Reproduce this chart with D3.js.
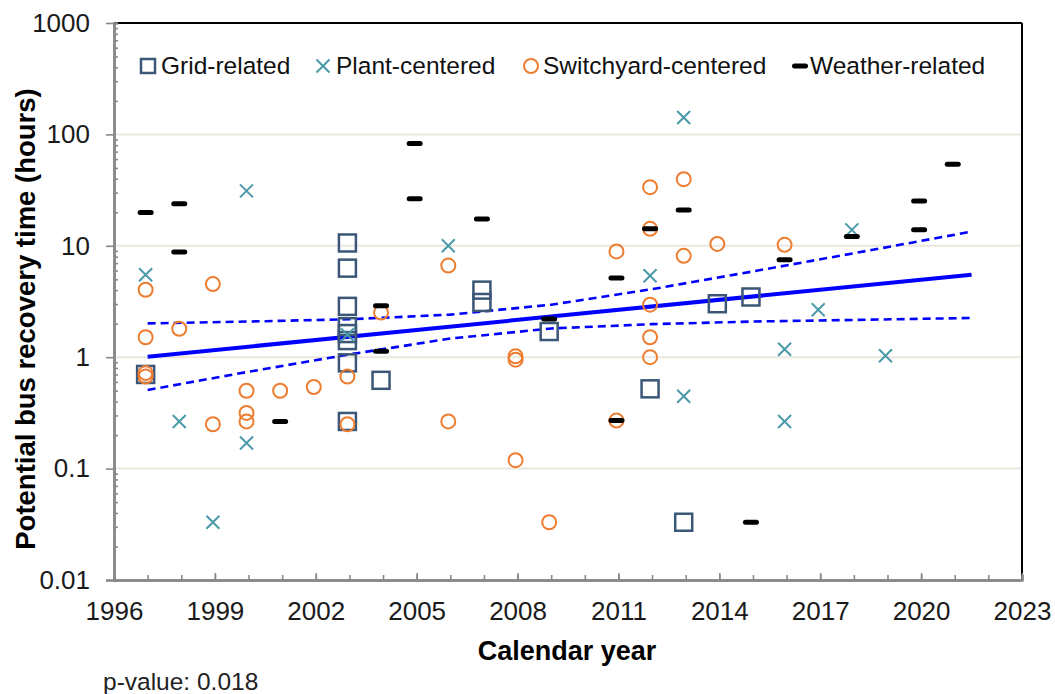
<!DOCTYPE html>
<html><head><meta charset="utf-8">
<script src="https://cdn.jsdelivr.net/npm/d3@7"></script>
<style>
body{margin:0;background:#fff;}
svg{display:block;font-family:"Liberation Sans",Arial,sans-serif;}
</style></head>
<body>
<svg id="c" width="1055" height="694"></svg>
<script>
// ---- data ----
const gridYears  = [1997,2003,2003,2003,2003,2003,2003,2003,2003,2004,2007,2007,2009,2012,2013,2014,2015];
const gridVals   = [0.70,10.6,6.3,2.86,1.88,1.63,1.41,0.89,0.265,0.62,4.0,3.1,1.70,0.52,0.033,3.02,3.47];

const plantYears = [1997,1998,1999,2000,2000,2003,2006,2012,2013,2013,2016,2016,2017,2018,2019];
const plantVals  = [5.5,0.265,0.033,31.1,0.17,1.59,10.0,5.38,142,0.446,1.18,0.265,2.67,13.9,1.03];

const switchYears = [1997,1997,1997,1997,1998,1999,1999,2000,2000,2000,2001,2002,2003,2003,2004,2006,2006,2008,2008,2008,2009,2011,2011,2012,2012,2012,2012,2012,2013,2013,2014,2016];
const switchVals  = [4.03,1.51,0.72,0.67,1.80,4.53,0.25,0.50,0.316,0.265,0.50,0.54,0.67,0.25,2.52,6.65,0.265,1.02,0.95,0.119,0.033,8.9,0.27,33.6,14.2,2.96,1.51,1.0,39.6,8.13,10.4,10.2];

const weatherYears = [1997,1998,1998,2001,2004,2004,2005,2005,2007,2009,2011,2011,2012,2013,2015,2016,2018,2020,2020,2021];
const weatherVals  = [19.9,23.8,8.78,0.265,2.9,1.13,82.7,26.5,17.4,2.2,5.13,0.27,14.2,21.0,0.033,7.49,12.1,25.3,13.9,54];

const trendYears = [1997,2021.5];
const trendVals  = [1.01,5.5];
const ciYears = [1997,2000,2003,2006,2009,2012,2015,2018,2021.5];
const ciUpper = [2.01,2.09,2.19,2.41,2.96,4.08,5.89,8.57,13.4];
const ciLower = [0.508,0.74,1.06,1.47,1.81,1.98,2.09,2.16,2.25];

const xTickYears = [1996,1999,2002,2005,2008,2011,2014,2017,2020,2023];
const yTickVals = [0.01,0.1,1,10,100,1000];
const yTickLabels = ["0.01","0.1","1","10","100","1000"];
const legendLabels = ["Grid-related","Plant-centered","Switchyard-centered","Weather-related"];
const pValueText = "p-value: 0.018";

// ---- chart ----
const svg = d3.select("#c");
const L=114, R=1022, T=23, B=580;
const x = d3.scaleLinear().domain([1996,2023]).range([L,R]);
const y = d3.scaleLog().domain([0.01,1000]).range([B,T]);
const mx = t => x(t) - 2;

const colSq="#3b5677", colX="#4a9aa9", colO="#ed7d31", colW="#000";

// gridlines
svg.append("g").selectAll("line").data([0.1,1,10,100]).join("line")
  .attr("x1",L).attr("x2",R).attr("y1",d=>y(d)).attr("y2",d=>y(d))
  .attr("stroke","#ebe7dc").attr("stroke-width",2);

// top & right border
svg.append("line").attr("x1",L).attr("x2",R).attr("y1",T).attr("y2",T).attr("stroke","#000").attr("stroke-width",2);
svg.append("line").attr("x1",R).attr("x2",R).attr("y1",T).attr("y2",B).attr("stroke","#000").attr("stroke-width",2);

// y minor ticks
const minor=[];
for(let e=-2;e<3;e++) for(let m=2;m<10;m++) minor.push(m*Math.pow(10,e));
const yMinor = svg.append("g").attr("transform",`translate(${L},0)`)
  .call(d3.axisLeft(y).tickValues(minor).tickSize(-4).tickFormat(""));
const yMajor = svg.append("g").attr("transform",`translate(${L},0)`)
  .call(d3.axisLeft(y).tickValues(yTickVals).tickSize(8).tickPadding(16)
    .tickFormat((d,i)=>yTickLabels[i]));
// x ticks
const allYears = d3.range(1996,2024);
const xMinor = svg.append("g").attr("transform",`translate(0,${B})`)
  .call(d3.axisBottom(x).tickValues(allYears).tickSize(-5).tickFormat(""));
const xMajor = svg.append("g").attr("transform",`translate(0,${B})`)
  .call(d3.axisBottom(x).tickValues(xTickYears).tickSize(-7).tickPadding(22).tickFormat(d3.format("d")));
[yMinor,yMajor,xMinor,xMajor].forEach(g=>{
  g.selectAll(".domain").attr("stroke","#888").attr("stroke-width",2.5);
  g.selectAll(".tick line").attr("stroke","#888").attr("stroke-width",1.6);
  g.selectAll("text").attr("font-size",26).attr("fill","#1a1a1a")
   .attr("font-family",'"Liberation Sans",Arial,sans-serif');
});
xMajor.select(".domain").attr("d",`M${L-8},0.5H${R}`);
yMajor.select(".domain").attr("d",`M0.5,${B}V${T}`);

// trend lines
const line = d3.line().x(d=>x(d[0])).y(d=>y(d[1]));
svg.append("path").attr("d",line(ciYears.map((t,i)=>[t,ciUpper[i]])))
  .attr("fill","none").attr("stroke","#0000ff").attr("stroke-width",2.6).attr("stroke-dasharray","8,5");
svg.append("path").attr("d",line(ciYears.map((t,i)=>[t,ciLower[i]])))
  .attr("fill","none").attr("stroke","#0000ff").attr("stroke-width",2.6).attr("stroke-dasharray","8,5");
svg.append("path").attr("d",line(trendYears.map((t,i)=>[t,trendVals[i]])))
  .attr("fill","none").attr("stroke","#0000ff").attr("stroke-width",4);

// markers
function sq(g,cx,cy,s){g.append("rect").attr("x",cx-s/2).attr("y",cy-s/2).attr("width",s).attr("height",s)
  .attr("fill","none").attr("stroke",colSq).attr("stroke-width",2.5);}
function cross(g,cx,cy,s){g.append("path").attr("d",`M${cx-s},${cy-s}L${cx+s},${cy+s}M${cx-s},${cy+s}L${cx+s},${cy-s}`)
  .attr("stroke",colX).attr("stroke-width",2).attr("fill","none");}
function circ(g,cx,cy,r){g.append("circle").attr("cx",cx).attr("cy",cy).attr("r",r)
  .attr("fill","none").attr("stroke",colO).attr("stroke-width",2);}
function dash(g,cx,cy){g.append("line").attr("x1",cx-5.5).attr("x2",cx+5.5).attr("y1",cy).attr("y2",cy)
  .attr("stroke",colW).attr("stroke-width",5).attr("stroke-linecap","round");}

const gm = svg.append("g");
gridYears.forEach((t,i)=>sq(gm,mx(t),y(gridVals[i]),17));
plantYears.forEach((t,i)=>cross(gm,mx(t),y(plantVals[i]),6.5));
switchYears.forEach((t,i)=>circ(gm,mx(t),y(switchVals[i]),7));
weatherYears.forEach((t,i)=>dash(gm,mx(t),y(weatherVals[i])));

// legend
const lg = svg.append("g");
const legX = [148,323,531,800], legTX=[161,336,543,810], legY=66;
sq(lg,legX[0],legY,14); cross(lg,legX[1],legY,6.5); circ(lg,legX[2],legY,7); dash(lg,legX[3],legY);
legendLabels.forEach((s,i)=>lg.append("text").attr("x",legTX[i]).attr("y",legY+8).attr("font-size",24.5)
  .attr("fill","#111").text(s));

// titles
svg.append("text").attr("x",567).attr("y",660).attr("text-anchor","middle").attr("font-size",27)
  .attr("font-weight","bold").attr("fill","#000").text("Calendar year");
svg.append("text").attr("transform","translate(35,319) rotate(-90)").attr("text-anchor","middle")
  .attr("font-size",27.5).attr("font-weight","bold").attr("fill","#000").text("Potential bus recovery time (hours)");
svg.append("text").attr("x",103).attr("y",690).attr("font-size",24.5).attr("fill","#222").text(pValueText);
</script>
</body></html>
